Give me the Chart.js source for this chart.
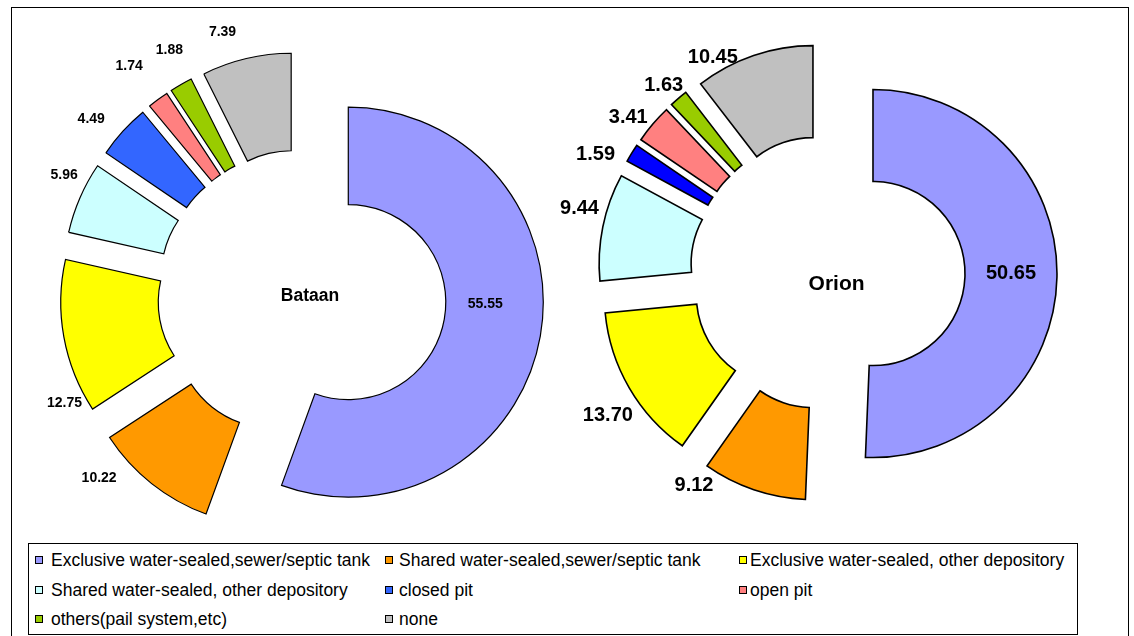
<!DOCTYPE html>
<html>
<head>
<meta charset="utf-8">
<script src="https://cdn.jsdelivr.net/npm/chart.js@4/dist/chart.umd.min.js"></script>
<style>
html,body{margin:0;padding:0;background:#fff;overflow:hidden;width:1134px;height:636px;}
#frame{position:absolute;left:11px;top:7px;width:1116px;height:700px;border:1px solid #000;}
canvas{position:absolute;left:0;top:0;}
#legend{position:absolute;left:28px;top:543px;width:1048px;height:90px;border:1px solid #000;background:#fff;
  font-family:'Liberation Sans',Arial,sans-serif;font-size:17.5px;color:#000;}
.item{position:absolute;white-space:nowrap;line-height:20px;}
.sw{position:absolute;width:6px;height:6px;border:1px solid #000;}
</style>
</head>
<body>
<div id="frame"></div>
<canvas id="bataan" width="1134" height="636"></canvas>
<canvas id="orion" width="1134" height="636"></canvas>
<div id="legend"></div>
<script>
// ---- data ----
const categories = [
  'Exclusive water-sealed,sewer/septic tank',
  'Shared water-sealed,sewer/septic tank',
  'Exclusive water-sealed, other depository',
  'Shared water-sealed, other depository',
  'closed pit',
  'open pit',
  'others(pail system,etc)',
  'none'
];
const bataanValues = [55.55, 10.22, 12.75, 5.96, 4.49, 1.74, 1.88, 7.39];
const orionValues  = [50.65, 9.12, 13.70, 9.44, 1.59, 3.41, 1.63, 10.45];
const chartTitles  = ['Bataan', 'Orion'];

// ---- styles ----
const bataanColors = ['#9999FF','#FF9900','#FFFF00','#CCFFFF','#3366FF','#FF8080','#99CC00','#C0C0C0'];
const orionColors  = ['#9999FF','#FF9900','#FFFF00','#CCFFFF','#0000FF','#FF8080','#99CC00','#C0C0C0'];
const FONT = "'Liberation Sans', Arial, sans-serif";
// label placement: [angle nudge (deg), gap beyond outer radius (px)]
const bataanLabelPlace = [[-9.25,-58],[11.2,33],[-17.5,21],[3.8,24],[-3.1,32],[-0.8,44],[1.8,36],[-4.3,32]];
const orionLabelPlace  = [[-1,-46],[16.3,23],[-3.6,33],[3.7,27],[-5.4,31],[-3.1,23],[-0.9,19],[-11.4,15]];

// explode every slice outward from the centre (pure translation, like an exploded doughnut)
const explodePlugin = {
  id: 'explode',
  afterDatasetUpdate(chart, args, opts) {
    const d = opts.distance || 0;
    args.meta.data.forEach(arc => {
      const mid = (arc.startAngle + arc.endAngle) / 2;
      arc.x += d * Math.cos(mid);
      arc.y += d * Math.sin(mid);
    });
  }
};

const labelPlugin = {
  id: 'sliceLabels',
  afterDatasetsDraw(chart, args, opts) {
    const ctx = chart.ctx;
    const meta = chart.getDatasetMeta(0);
    const values = chart.data.datasets[0].data;
    ctx.save();
    ctx.fillStyle = '#000';
    ctx.textAlign = 'center';
    ctx.textBaseline = 'middle';
    ctx.font = opts.font;
    meta.data.forEach((arc, i) => {
      const p = opts.place[i];
      const a = (arc.startAngle + arc.endAngle) / 2 + p[0] * Math.PI / 180;
      const r = arc.outerRadius + p[1];
      ctx.fillText(values[i].toFixed(2), arc.x + r * Math.cos(a), arc.y + r * Math.sin(a));
    });
    const ca = chart.chartArea;
    ctx.font = opts.titleFont;
    ctx.fillText(opts.title, (ca.left + ca.right) / 2 + opts.titleShift[0], (ca.top + ca.bottom) / 2 + opts.titleShift[1]);
    ctx.restore();
  }
};

function makeChart(id, values, colors, cfg) {
  const W = 1134, H = 636;
  const padding = {
    left: Math.max(0, 2 * cfg.cx - W), right: Math.max(0, W - 2 * cfg.cx),
    top: Math.max(0, 2 * cfg.cy - H), bottom: Math.max(0, H - 2 * cfg.cy)
  };
  return new Chart(document.getElementById(id), {
    type: 'doughnut',
    data: {
      labels: categories,
      datasets: [{
        data: values,
        backgroundColor: colors,
        borderColor: '#000',
        borderWidth: cfg.border,
        borderJoinStyle: 'miter'
      }]
    },
    options: {
      responsive: false,
      animation: false,
      events: [],
      radius: cfg.radius,
      cutout: '50%',
      layout: { padding },
      plugins: {
        legend: { display: false },
        tooltip: { enabled: false },
        explode: { distance: cfg.explode },
        sliceLabels: {
          font: cfg.labelFont, place: cfg.place,
          title: cfg.title, titleFont: cfg.titleFont, titleShift: cfg.titleShift
        }
      }
    },
    plugins: [explodePlugin, labelPlugin]
  });
}

makeChart('bataan', bataanValues, bataanColors, {
  cx: 302, cy: 294, radius: 195, explode: 47, border: 1.2,
  labelFont: 'bold 14px ' + FONT, place: bataanLabelPlace,
  title: chartTitles[0], titleFont: 'bold 17.5px ' + FONT, titleShift: [8, 2]
});
makeChart('orion', orionValues, orionColors, {
  cx: 827.6, cy: 272.6, radius: 184, explode: 45.4, border: 1.6,
  labelFont: 'bold 20px ' + FONT, place: orionLabelPlace,
  title: chartTitles[1], titleFont: 'bold 21px ' + FONT, titleShift: [9, 11.5]
});

// ---- legend (HTML, 3 columns) ----
const legendCols = [[6, 22], [356, 370], [710, 721]];
const legendRows = [16, 46, 75];
const legend = document.getElementById('legend');
categories.forEach((name, i) => {
  const col = legendCols[i % 3], row = legendRows[Math.floor(i / 3)];
  const sw = document.createElement('div');
  sw.className = 'sw';
  sw.style.left = col[0] + 'px';
  sw.style.top = (row - 4) + 'px';
  sw.style.background = bataanColors[i];
  legend.appendChild(sw);
  const t = document.createElement('div');
  t.className = 'item';
  t.style.left = col[1] + 'px';
  t.style.top = (row - 10) + 'px';
  t.textContent = name;
  legend.appendChild(t);
});
</script>
</body>
</html>
